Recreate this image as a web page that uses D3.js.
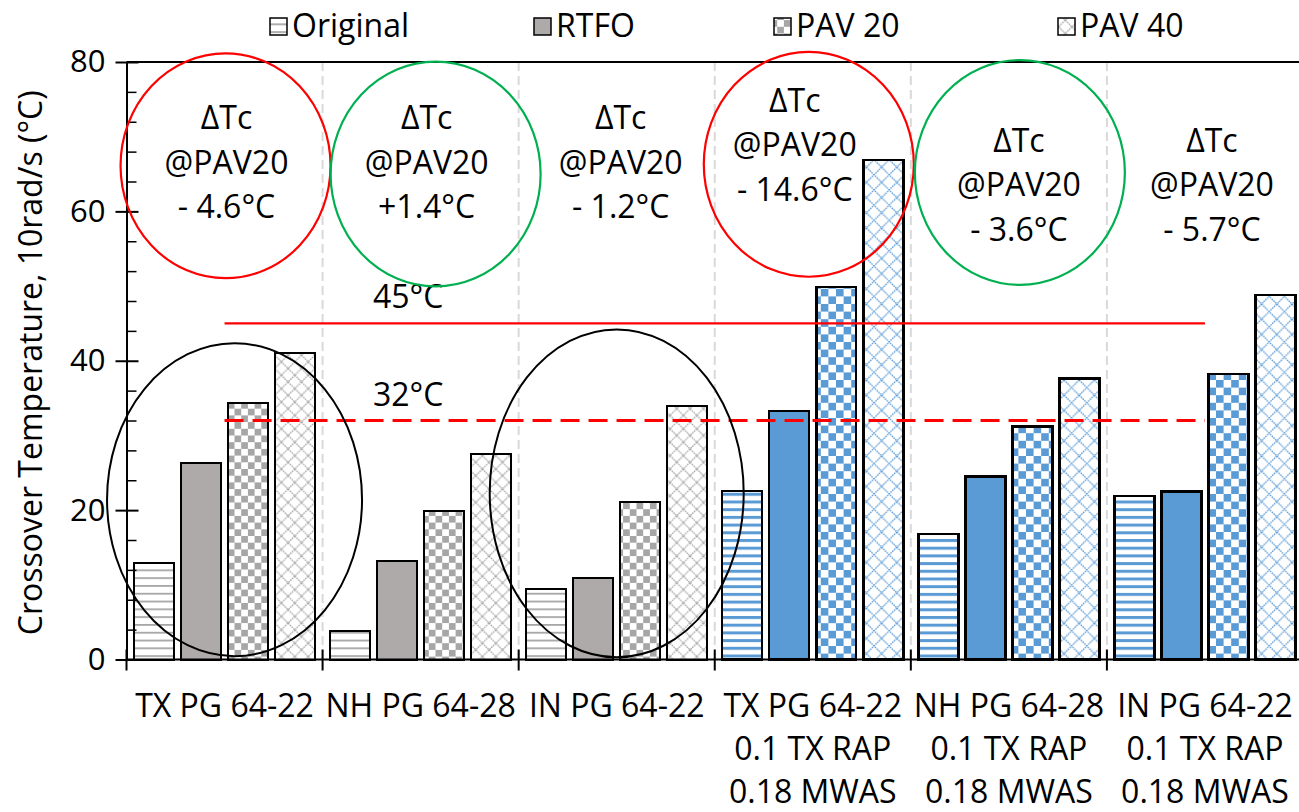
<!DOCTYPE html>
<html>
<head>
<meta charset="utf-8">
<script src="https://cdn.jsdelivr.net/npm/d3@7"></script>
<style>
  body { margin: 0; background: #fff; }
  svg { display: block; }
  text { font-family: "Open Sans", sans-serif; fill: #000; }
</style>
</head>
<body>
<svg id="chart" width="1299" height="812"></svg>
<script>
// Binders (multi-line labels) and aging states
const categories = [
  ["TX PG 64-22"],
  ["NH PG 64-28"],
  ["IN PG 64-22"],
  ["TX PG 64-22", "0.1 TX RAP", "0.18 MWAS"],
  ["NH PG 64-28", "0.1 TX RAP", "0.18 MWAS"],
  ["IN PG 64-22", "0.1 TX RAP", "0.18 MWAS"]
];
const seriesNames = ["Original", "RTFO", "PAV 20", "PAV 40"];

// Crossover temperature at 10 rad/s, °C
const original = [12.9, 3.8, 9.4, 22.6, 16.8, 21.9];
const rtfo     = [26.3, 13.2, 10.9, 33.3, 24.5, 22.5];
const pav20    = [34.4, 19.9, 21.1, 49.9, 31.2, 38.2];
const pav40    = [41.1, 27.5, 34.0, 66.9, 37.6, 48.8];

const yTicks = [0, 20, 40, 60, 80];
const yMinorTicks = [4, 8, 12, 16, 24, 28, 32, 36, 44, 48, 52, 56, 64, 68, 72, 76];
const refLines = [45, 32];
const yTitle = "Crossover Temperature, 10rad/s (°C)";

// Change in crossover temperature after PAV 20
const deltaTc = ["- 4.6°C", "+1.4°C", "- 1.2°C", "- 14.6°C", "- 3.6°C", "- 5.7°C"];

const seriesValues = [original, rtfo, pav20, pav40];

const svg = d3.select("#chart");
const defs = svg.append("defs");

const GRAY = "#aeaaaa";
const BLUE = "#5b9bd5";

// ---- fill patterns ---------------------------------------------------------
function makePatterns(key, color, stripe, cell, diamond) {
  // horizontal stripes
  const s = defs.append("pattern").attr("id", `stripes-${key}`)
    .attr("patternUnits", "userSpaceOnUse").attr("width", 8).attr("height", stripe.period);
  s.append("rect").attr("width", 8).attr("height", stripe.period).attr("fill", "#fff");
  s.append("rect").attr("y", 0).attr("width", 8).attr("height", stripe.thick).attr("fill", color);

  // checkerboard
  const c = defs.append("pattern").attr("id", `checker-${key}`)
    .attr("patternUnits", "userSpaceOnUse").attr("width", cell * 2).attr("height", cell * 2);
  c.append("rect").attr("width", cell * 2).attr("height", cell * 2).attr("fill", "#fff");
  c.append("rect").attr("width", cell).attr("height", cell).attr("fill", color);
  c.append("rect").attr("x", cell).attr("y", cell).attr("width", cell).attr("height", cell).attr("fill", color);

  // diamond lattice
  const d = defs.append("pattern").attr("id", `diamond-${key}`)
    .attr("patternUnits", "userSpaceOnUse").attr("width", diamond).attr("height", diamond);
  d.append("rect").attr("width", diamond).attr("height", diamond).attr("fill", "#fff");
  d.append("path")
    .attr("d", `M0,0L${diamond},${diamond}M${diamond},0L0,${diamond}`)
    .attr("stroke", color).attr("stroke-width", 1.3).attr("stroke-dasharray", "1.6,0.8");
}
makePatterns("gray", "#a6a6a6", { period: 7.8, thick: 1.8 }, 6.7, 13.4);
makePatterns("blue", BLUE, { period: 7.7, thick: 3 }, 7.6, 15.2);

function fillFor(seriesIdx, key) {
  if (seriesIdx === 0) return `url(#stripes-${key})`;
  if (seriesIdx === 1) return key === "gray" ? GRAY : BLUE;
  if (seriesIdx === 2) return `url(#checker-${key})`;
  return `url(#diamond-${key})`;
}
const paletteOf = i => (categories[i].length > 1 ? "blue" : "gray");

// ---- scales ----------------------------------------------------------------
const plotLeft = 126.5, plotRight = 1303, plotTop = 62, plotBottom = 659.5;
const x = d3.scaleBand().domain(d3.range(categories.length)).range([plotLeft, plotRight]);
const xInner = d3.scaleBand().domain(d3.range(seriesNames.length))
  .range([0, x.bandwidth()]).paddingInner(0.15).paddingOuter(0.16);
const y = d3.scaleLinear().domain([0, 80]).range([plotBottom, plotTop]);

const boundaries = d3.range(categories.length + 1).map(i =>
  i < categories.length ? x(i) : plotRight);

// ---- category separators ---------------------------------------------------
svg.append("g").selectAll("line").data(boundaries.slice(1)).join("line")
  .attr("x1", d => d).attr("x2", d => d)
  .attr("y1", y(80)).attr("y2", y(0))
  .attr("stroke", "#d9d9d9").attr("stroke-width", 2).attr("stroke-dasharray", "9,5");

// top border
svg.append("line").attr("x1", plotLeft).attr("x2", plotRight)
  .attr("y1", y(80)).attr("y2", y(80)).attr("stroke", "#000").attr("stroke-width", 2);

// ---- bars ------------------------------------------------------------------
const barData = [];
categories.forEach((c, ci) => {
  seriesValues.forEach((vals, si) => barData.push({ ci, si, v: vals[ci] }));
});
svg.append("g").selectAll("rect").data(barData).join("rect")
  .attr("x", d => x(d.ci) + xInner(d.si))
  .attr("width", xInner.bandwidth())
  .attr("y", d => y(d.v))
  .attr("height", d => y(0) - y(d.v))
  .attr("fill", d => fillFor(d.si, paletteOf(d.ci)))
  .attr("stroke", "#000")
  .attr("stroke-width", d => paletteOf(d.ci) === "blue" ? 2.4 : 2)
  .attr("shape-rendering", "crispEdges");

// ---- axes ------------------------------------------------------------------
const yAxisG = svg.append("g").attr("transform", `translate(${plotLeft},0)`);
yAxisG.call(d3.axisLeft(y).tickValues(yTicks).tickSize(11).tickSizeOuter(0).tickPadding(10))
  .call(g => g.select(".domain").attr("stroke-width", 2))
  .call(g => g.selectAll(".tick line").attr("stroke-width", 2))
  .call(g => g.selectAll(".tick text").attr("font-size", 31).attr("font-family", "Open Sans").attr("fill", "#222"));
// inner halves of major ticks
svg.append("g").attr("transform", `translate(${plotLeft},0)`)
  .call(d3.axisRight(y).tickValues(yTicks).tickSize(12).tickSizeOuter(0).tickFormat(""))
  .call(g => g.select(".domain").remove())
  .call(g => g.selectAll(".tick line").attr("stroke-width", 2));
// minor ticks
svg.append("g").attr("transform", `translate(${plotLeft},0)`)
  .call(d3.axisRight(y).tickValues(yMinorTicks).tickSize(10).tickSizeOuter(0).tickFormat(""))
  .call(g => g.select(".domain").remove())
  .call(g => g.selectAll(".tick line").attr("stroke-width", 1.5));

// x axis baseline and boundary ticks
svg.append("line").attr("x1", plotLeft).attr("x2", plotRight)
  .attr("y1", y(0)).attr("y2", y(0)).attr("stroke", "#000").attr("stroke-width", 2);
svg.append("g").selectAll("line").data(boundaries).join("line")
  .attr("x1", d => d).attr("x2", d => d)
  .attr("y1", y(0) - 10).attr("y2", y(0) + 11)
  .attr("stroke", "#000").attr("stroke-width", 2);

// category labels
const xLab = svg.append("g");
categories.forEach((lines, ci) => {
  lines.forEach((t, li) => {
    xLab.append("text")
      .attr("x", x(ci) + x.bandwidth() / 2)
      .attr("y", 717 + li * 43)
      .attr("text-anchor", "middle")
      .attr("font-size", 32)
      .attr("fill", "#111")
      .text(t);
  });
});

// y title
svg.append("text")
  .attr("transform", `translate(42,${(plotTop + plotBottom) / 2 + 2}) rotate(-90)`)
  .attr("text-anchor", "middle")
  .attr("font-size", 32)
  .text(yTitle);

// ---- reference lines -------------------------------------------------------
const refX1 = x(0) + x.bandwidth() / 2;
const refX2 = x(categories.length - 1) + x.bandwidth() / 2;
refLines.forEach((v, i) => {
  svg.append("line")
    .attr("x1", refX1).attr("x2", refX2)
    .attr("y1", y(v)).attr("y2", y(v))
    .attr("stroke", "#ff0000")
    .attr("stroke-width", i === 0 ? 2.2 : 2.8)
    .attr("stroke-dasharray", i === 0 ? null : "19,9");
  svg.append("text")
    .attr("x", 373).attr("y", y(v) - 15)
    .attr("font-size", 32)
    .text(`${v}°C`);
});

// ---- highlight ellipses ----------------------------------------------------
const bandMid = i => x(i) + x.bandwidth() / 2;
// upper rings around the ΔTc notes: [category, x offset, centre value, colour]
const rings = [
  [0, 1, 66.1, "#ff0000"],
  [1, 15, 65.0, "#00b050"],
  [3, -4, 66.3, "#ff0000"],
  [4, 11, 65.2, "#00b050"]
];
const ringGroup = svg.append("g").attr("fill", "none").attr("stroke-width", 2.2);
rings.forEach(([ci, dx, cy, col]) => {
  ringGroup.append("ellipse")
    .attr("cx", bandMid(ci) + dx).attr("cy", y(cy))
    .attr("rx", 105).attr("ry", y(0) - y(15.05))
    .attr("stroke", col);
});
// lower rings grouping the unmodified binders' bars
const groupRings = [
  [0, 10, 21.4, 127.5, 20.95],
  [2, 0, 22.25, 127, 21.95]
];
groupRings.forEach(([ci, dx, cy, rx, ryv]) => {
  ringGroup.append("ellipse")
    .attr("cx", bandMid(ci) + dx).attr("cy", y(cy))
    .attr("rx", rx).attr("ry", y(0) - y(ryv))
    .attr("stroke", "#000").attr("stroke-width", 2);
});

// ---- ΔTc notes -------------------------------------------------------------
const noteLayout = [
  [2, 129], [6, 129], [4, 129], [-18, 111.7], [10, 151.7], [7, 151.7]
];
deltaTc.forEach((d, ci) => {
  const [dx, top] = noteLayout[ci];
  ["ΔTc", "@PAV20", d].forEach((t, li) => {
    svg.append("text")
      .attr("x", bandMid(ci) + dx)
      .attr("y", top + li * 44.5)
      .attr("text-anchor", "middle")
      .attr("font-size", 32)
      .text(t);
  });
});

// ---- legend ----------------------------------------------------------------
const legendX = [292, 556, 796, 1080];
const legend = svg.append("g");
seriesNames.forEach((name, si) => {
  legend.append("rect")
    .attr("x", legendX[si] - 22).attr("y", 18)
    .attr("width", 17).attr("height", 17)
    .attr("fill", fillFor(si, "gray"))
    .attr("stroke", "#000").attr("stroke-width", 1.5);
  legend.append("text")
    .attr("x", legendX[si]).attr("y", 37)
    .attr("font-size", 32)
    .attr("fill", "#222")
    .text(name);
});
</script>
</body>
</html>
